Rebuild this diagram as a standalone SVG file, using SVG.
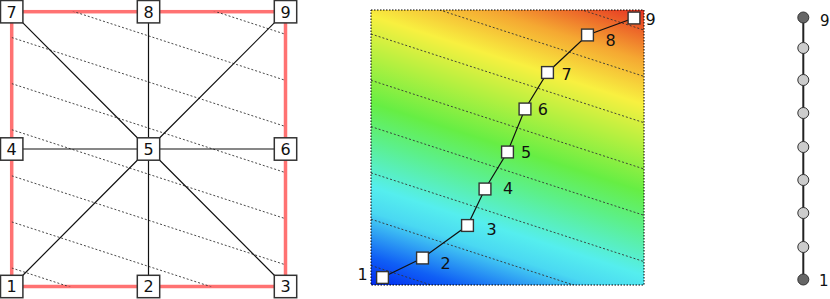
<svg xmlns="http://www.w3.org/2000/svg" width="830" height="299" viewBox="0 0 830 299">
<style>
text{font-family:"DejaVu Sans","Liberation Sans",sans-serif;fill:#111}
.lbl{font-size:16px}
.lblc{font-size:16px;text-anchor:middle}
.rl{font-size:15px}
.box{fill:#fff;stroke:#333;stroke-width:1.5}
.sbox{fill:#fff;stroke:#333;stroke-width:1.4}
.edge{stroke:#111;stroke-width:1.2;fill:none}
.red{stroke:#ff7272;stroke-width:3.5;fill:none}
.cont{stroke:#333;stroke-width:0.9;stroke-dasharray:2,2;fill:none}
.cin{fill:#ccc;stroke:#333;stroke-width:1}
.cend{fill:#666;stroke:#333;stroke-width:1}
</style>
<defs>
<clipPath id="clipA"><rect x="11.7" y="11.7" width="273.8" height="274.8"/></clipPath>
<clipPath id="clipB"><rect x="371" y="10" width="273" height="275"/></clipPath>
<linearGradient id="jet" gradientUnits="userSpaceOnUse" x1="371" y1="285" x2="478" y2="-44">
<stop offset="0" stop-color="#0028f0"/>
<stop offset="0.08" stop-color="#1060f5"/>
<stop offset="0.2" stop-color="#4ad8f2"/>
<stop offset="0.27" stop-color="#55eeee"/>
<stop offset="0.4" stop-color="#5cf08a"/>
<stop offset="0.5" stop-color="#66ee44"/>
<stop offset="0.62" stop-color="#b0f040"/>
<stop offset="0.74" stop-color="#f8f040"/>
<stop offset="0.86" stop-color="#f5a832"/>
<stop offset="1" stop-color="#e63222"/>
</linearGradient>
</defs>

<!-- Left panel -->
<g id="left-border">
<rect class="red" x="11.7" y="11.7" width="273.8" height="274.8"/>
</g>
<g id="left-contours" clip-path="url(#clipA)">
<path class="cont" d="M11.7,-54.7L285.5,34.3M11.7,-8.6L285.5,80.4M11.7,37.5L285.5,126.5M11.7,83.6L285.5,172.6M11.7,129.7L285.5,218.7M11.7,175.8L285.5,264.8M11.7,221.9L285.5,310.9M11.7,268L285.5,357"/>
</g>
<g id="left-connectors">
<path class="edge" d="M148.5,149L11.7,286.5M148.5,149L148.5,286.5M148.5,149L285.5,286.5M148.5,149L11.7,149M148.5,149L285.5,149M148.5,149L11.7,11.7M148.5,149L148.5,11.7M148.5,149L285.5,11.7"/>
</g>
<g id="a1"><rect class="box" x="0.5" y="275.3" width="22.4" height="22.4"/><text class="lblc" x="11.7" y="292.3">1</text></g>
<g id="a2"><rect class="box" x="137.3" y="275.3" width="22.4" height="22.4"/><text class="lblc" x="148.5" y="292.3">2</text></g>
<g id="a3"><rect class="box" x="274.3" y="275.3" width="22.4" height="22.4"/><text class="lblc" x="285.5" y="292.3">3</text></g>
<g id="a4"><rect class="box" x="0.5" y="137.8" width="22.4" height="22.4"/><text class="lblc" x="11.7" y="154.8">4</text></g>
<g id="a5"><rect class="box" x="137.3" y="137.8" width="22.4" height="22.4"/><text class="lblc" x="148.5" y="154.8">5</text></g>
<g id="a6"><rect class="box" x="274.3" y="137.8" width="22.4" height="22.4"/><text class="lblc" x="285.5" y="154.8">6</text></g>
<g id="a7"><rect class="box" x="0.5" y="0.5" width="22.4" height="22.4"/><text class="lblc" x="11.7" y="17.5">7</text></g>
<g id="a8"><rect class="box" x="137.3" y="0.5" width="22.4" height="22.4"/><text class="lblc" x="148.5" y="17.5">8</text></g>
<g id="a9"><rect class="box" x="274.3" y="0.5" width="22.4" height="22.4"/><text class="lblc" x="285.5" y="17.5">9</text></g>

<!-- Middle panel -->
<g id="middle-field">
<rect x="371" y="10" width="273" height="275" fill="url(#jet)"/>
</g>
<g id="middle-contours" clip-path="url(#clipB)">
<path class="cont" d="M371,-58.6L644,30.1M371,-12.3L644,76.4M371,34L644,122.7M371,80.3L644,169M371,126.6L644,215.3M371,172.9L644,261.6M371,219.2L644,307.9M371,265.5L644,354.2"/>
</g>
<g id="middle-frame">
<rect x="371" y="10" width="273" height="275" fill="none" stroke="#000" stroke-width="1" stroke-dasharray="1.5,1.5"/>
</g>
<g id="middle-connectors">
<polyline class="edge" points="382.5,277.5 422.5,258 467.5,225.5 485,189 507.5,152 525,109 547.5,72.5 587.5,35 634,18"/>
</g>
<g id="b1"><rect class="sbox" x="376.6" y="271.6" width="11.8" height="11.8"/><text class="lbl" x="357.5" y="280">1</text></g>
<g id="b2"><rect class="sbox" x="416.6" y="252.1" width="11.8" height="11.8"/><text class="lbl" x="440.5" y="269">2</text></g>
<g id="b3"><rect class="sbox" x="461.6" y="219.6" width="11.8" height="11.8"/><text class="lbl" x="486.5" y="235">3</text></g>
<g id="b4"><rect class="sbox" x="479.1" y="183.1" width="11.8" height="11.8"/><text class="lbl" x="503" y="194.3">4</text></g>
<g id="b5"><rect class="sbox" x="501.6" y="146.1" width="11.8" height="11.8"/><text class="lbl" x="521" y="158.3">5</text></g>
<g id="b6"><rect class="sbox" x="519.1" y="103.1" width="11.8" height="11.8"/><text class="lbl" x="537.8" y="115">6</text></g>
<g id="b7"><rect class="sbox" x="541.6" y="66.6" width="11.8" height="11.8"/><text class="lbl" x="561.5" y="80">7</text></g>
<g id="b8"><rect class="sbox" x="581.6" y="29.1" width="11.8" height="11.8"/><text class="lbl" x="605.5" y="46">8</text></g>
<g id="b9"><rect class="sbox" x="628.1" y="12.1" width="11.8" height="11.8"/><text class="lbl" x="645.5" y="25">9</text></g>

<!-- Right panel -->
<g id="right-connectors">
<line x1="803.3" y1="17.5" x2="803.3" y2="279.5" stroke="#222" stroke-width="2"/>
</g>
<g id="c1"><circle class="cend" cx="803.3" cy="279.5" r="5.5"/><text class="rl" x="819" y="285.5">1</text></g>
<g id="c2"><circle class="cin" cx="803.3" cy="247" r="5.5"/></g>
<g id="c3"><circle class="cin" cx="803.3" cy="213" r="5.5"/></g>
<g id="c4"><circle class="cin" cx="803.3" cy="180" r="5.5"/></g>
<g id="c5"><circle class="cin" cx="803.3" cy="147" r="5.5"/></g>
<g id="c6"><circle class="cin" cx="803.3" cy="113" r="5.5"/></g>
<g id="c7"><circle class="cin" cx="803.3" cy="80" r="5.5"/></g>
<g id="c8"><circle class="cin" cx="803.3" cy="48" r="5.5"/></g>
<g id="c9"><circle class="cend" cx="803.3" cy="17.5" r="5.5"/><text class="rl" x="820" y="26">9</text></g>
</svg>
